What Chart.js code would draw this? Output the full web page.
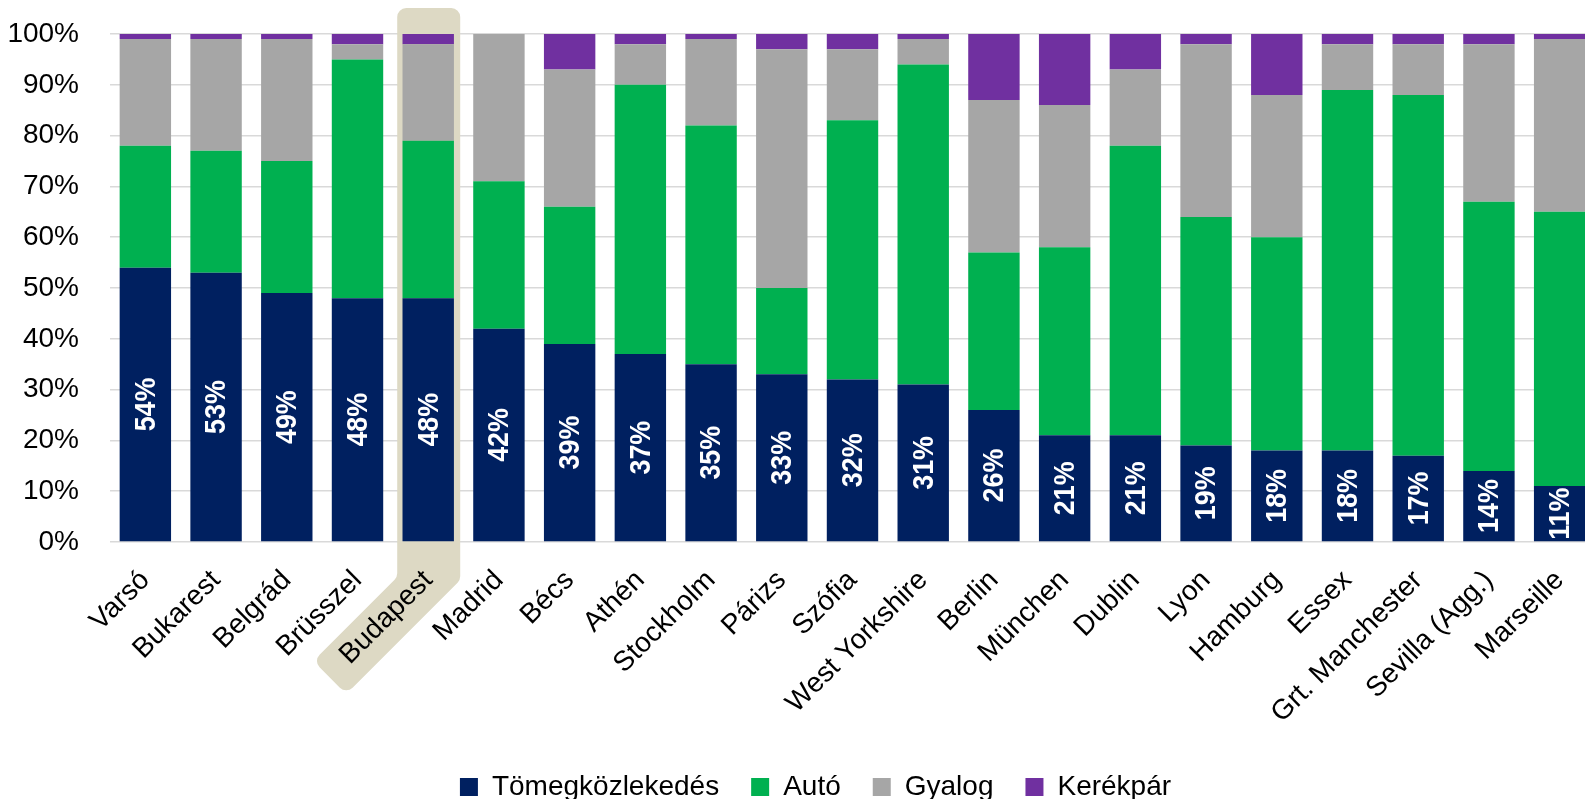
<!DOCTYPE html>
<html><head><meta charset="utf-8">
<script src="https://cdn.jsdelivr.net/npm/chart.js@4/dist/chart.umd.min.js"></script>
<style>html,body{margin:0;padding:0;overflow:hidden;background:#fff;width:1585px;height:799px}</style>
</head><body>
<canvas id="c" width="1610" height="799" style="display:block;width:1610px;height:799px"></canvas>
<script>
const categories = ['Varsó','Bukarest','Belgrád','Brüsszel','Budapest','Madrid','Bécs','Athén','Stockholm','Párizs','Szófia','West Yorkshire','Berlin','München','Dublin','Lyon','Hamburg','Essex','Grt. Manchester','Sevilla (Agg.)','Marseille'];
const transit = [54,53,49,48,48,42,39,37,35,33,32,31,26,21,21,19,18,18,17,14,11];
const car     = [24,24,26,47,31,29,27,53,47,17,51,63,31,37,57,45,42,71,71,53,54];
const walk    = [21,22,24,3,19,29,27,8,17,47,14,5,30,28,15,34,28,9,10,31,34];
const bike    = [1,1,1,2,2,0,7,2,1,3,3,1,13,14,7,2,12,2,2,2,1];
const seriesNames = ['Tömegközlekedés','Autó','Gyalog','Kerékpár'];
const yTicks = [0,10,20,30,40,50,60,70,80,90,100];
const highlighted = 'Budapest';

const FONT = '"Liberation Sans", Arial, sans-serif';

const highlightPlugin = {
  id: 'highlight',
  afterLayout(chart) {
    const lg = chart.legend;
    if (lg) { lg.left += 18; lg.right += 18; }
  },
  beforeDatasetsDraw(chart) {
    const idx = categories.indexOf(highlighted);
    if (idx < 0) return;
    const x = chart.scales.x, ca = chart.chartArea;
    const cx = x.getPixelForValue(idx);
    const L = cx - 31, R = cx + 32;
    const top = ca.top - 26;
    const rb = ca.bottom + 38;
    const pts = [
      [L, top], [R, top], [R, rb],
      [R - 114, rb + 114], [R - 147, rb + 81],
      [L, rb - 3]
    ];
    const ctx = chart.ctx;
    ctx.save();
    ctx.fillStyle = '#DDD9C4';
    ctx.beginPath();
    const r = 9, n = pts.length;
    const mid = (a, b) => [(a[0] + b[0]) / 2, (a[1] + b[1]) / 2];
    const start = mid(pts[n - 1], pts[0]);
    ctx.moveTo(start[0], start[1]);
    for (let i = 0; i < n; i++) {
      const p = pts[i], q = pts[(i + 1) % n];
      ctx.arcTo(p[0], p[1], q[0], q[1], r);
    }
    ctx.closePath();
    ctx.fill();
    ctx.restore();
  }
};

const labelPlugin = {
  id: 'barLabels',
  afterDatasetsDraw(chart) {
    const meta = chart.getDatasetMeta(0);
    const ctx = chart.ctx;
    ctx.save();
    ctx.fillStyle = '#FFFFFF';
    ctx.font = 'bold 28px ' + FONT;
    ctx.textAlign = 'center';
    ctx.textBaseline = 'middle';
    meta.data.forEach((el, i) => {
      const y = (el.y + el.base) / 2;
      ctx.save();
      ctx.translate(el.x, y);
      ctx.rotate(-Math.PI / 2);
      ctx.scale(0.96, 1.08);
      ctx.fillText(transit[i] + '%', 0, 1);
      ctx.restore();
    });
    ctx.restore();
  }
};

const colors = ['#002060', '#00B050', '#A6A6A6', '#7030A0'];
const values = [transit, car, walk, bike];

new Chart(document.getElementById('c'), {
  type: 'bar',
  data: {
    labels: categories,
    datasets: values.map((v, i) => ({
      label: seriesNames[i],
      data: v,
      backgroundColor: colors[i],
      borderWidth: 0,
      categoryPercentage: 1,
      barPercentage: 0.727
    }))
  },
  options: {
    responsive: false,
    animation: false,
    events: [],
    layout: { padding: { top: 34, right: 15, left: 0, bottom: 0 } },
    plugins: {
      tooltip: { enabled: false },
      legend: {
        position: 'bottom',
        maxHeight: 58,
        labels: {
          font: { family: FONT, size: 28 },
          color: '#000',
          boxWidth: 18,
          boxHeight: 18,
          padding: 32
        }
      }
    },
    scales: {
      x: {
        stacked: true,
        grid: { display: false },
        border: { display: false },
        ticks: {
          z: 1,
          color: '#000',
          font: { family: FONT, size: 28 },
          maxRotation: 45,
          minRotation: 45,
          autoSkip: false,
          padding: 14
        },
        afterFit(s) { s.height = 199; s.paddingLeft = 0; s.paddingRight = 0; s.paddingTop = 0; s.paddingBottom = 0; }
      },
      y: {
        stacked: true,
        min: 0,
        max: 100,
        afterBuildTicks(s) { s.ticks = yTicks.map(v => ({ value: v })); },
        grid: { color: '#D9D9D9', lineWidth: 1.5, drawTicks: false },
        border: { display: false },
        ticks: {
          color: '#000',
          font: { family: FONT, size: 28 },
          padding: 31,
          callback: v => v + '%'
        },
        afterFit(s) { s.width = 110; s.paddingTop = 0; s.paddingBottom = 0; s.paddingLeft = 0; s.paddingRight = 0; }
      }
    }
  },
  plugins: [highlightPlugin, labelPlugin]
});
</script>
</body></html>
